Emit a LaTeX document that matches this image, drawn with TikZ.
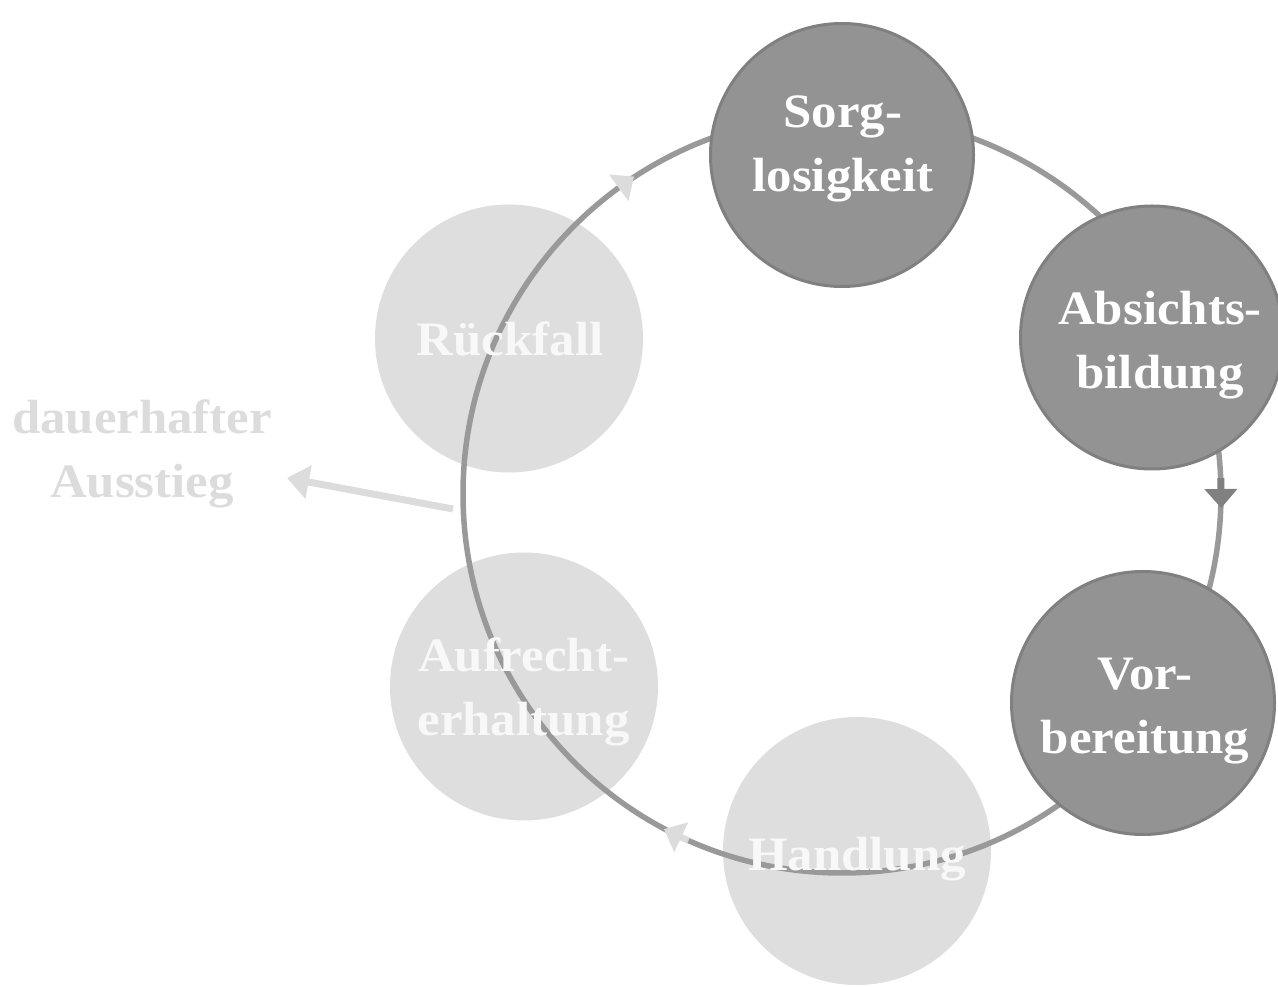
\documentclass[tikz,border=0pt]{standalone}
\usepackage{fontspec}
\setmainfont{Liberation Serif}[FakeStretch=1.06]
\usetikzlibrary{arrows.meta}
\definecolor{darkfill}{HTML}{939393}
\definecolor{darkline}{HTML}{808080}
\definecolor{ringcol}{HTML}{999999}
\definecolor{lightfill}{HTML}{DEDEDE}
\definecolor{lighttext}{HTML}{F8F8F8}
\definecolor{exitcol}{HTML}{DCDCDC}
\begin{document}
\begin{tikzpicture}[x=1pt,y=1pt,
  darkstage/.style={circle,fill=darkfill,draw=darkline,line width=3pt,minimum size=263pt,inner sep=0pt},
  lightstage/.style={circle,fill=lightfill,minimum size=268pt,inner sep=0pt},
  stagetext/.style={align=center,inner sep=0pt,font=\fontsize{48}{64}\selectfont\bfseries},
  ring/.style={draw=ringcol,line width=5.5pt},
  exitarrow/.style={draw=exitcol,line width=7pt,-{Triangle[length=22pt,width=33pt]}}]
\useasboundingbox (0,0) rectangle (1278,986);
\coordinate (c) at (842,492);
% light stages
\node[lightstage] (h) at (857,135) {};
\node[lightstage] (au) at (524,299.5) {};
\node[lightstage] (rf) at (509,647.5) {};
% cycle ring
\draw[ring] (c) circle (379);
% dark stages
\node[darkstage] (s) at (842,831) {};
\node[darkstage] (a) at (1152,648.5) {};
\node[darkstage] (v) at (1143,283) {};
% texts
\node[stagetext,text=white] (ts) at (843,837) {Sorg-\\losigkeit};
\node[stagetext,text=white] (ta) at (1160,641) {Absichts-\\bildung};
\node[stagetext,text=white] (tv) at (1145,275) {Vor-\\bereitung};
\node[stagetext,text=lighttext] (th) at (857,127) {Handlung};
\node[stagetext,text=lighttext] (tau) at (523.5,294) {Aufrecht-\\erhaltung};
\node[stagetext,text=lighttext] (trf) at (510,647) {Rückfall};
\node[stagetext,text=exitcol] (exit) at (142,532) {dauerhafter\\Ausstieg};
% arrowheads on ring
\begin{scope}[shift={(c)},rotate=126.1,shift={(379,0)},rotate=-90]
  \fill[exitcol] (0,16.5) -- (19,0) -- (0,-16.5) -- cycle;
\end{scope}
\begin{scope}[shift={(c)},rotate=0.75,shift={(379,0)},rotate=-90]
  \fill[darkline] (-11,-3.5) rectangle (0,3.5);
  \fill[darkline] (0,16.5) -- (19,0) -- (0,-16.5) -- cycle;
\end{scope}
\begin{scope}[shift={(c)},rotate=244.9,shift={(379,0)},rotate=-90]
  \fill[exitcol] (-8,-3.2) rectangle (0,3.2);
  \fill[exitcol] (0,16.5) -- (19,0) -- (0,-16.5) -- cycle;
\end{scope}
% exit arrow
\coordinate (exitstart) at (453,477);
\coordinate (exittip) at (287,508);
\draw[exitarrow] (exitstart) -- (exittip);
\end{tikzpicture}
\end{document}
